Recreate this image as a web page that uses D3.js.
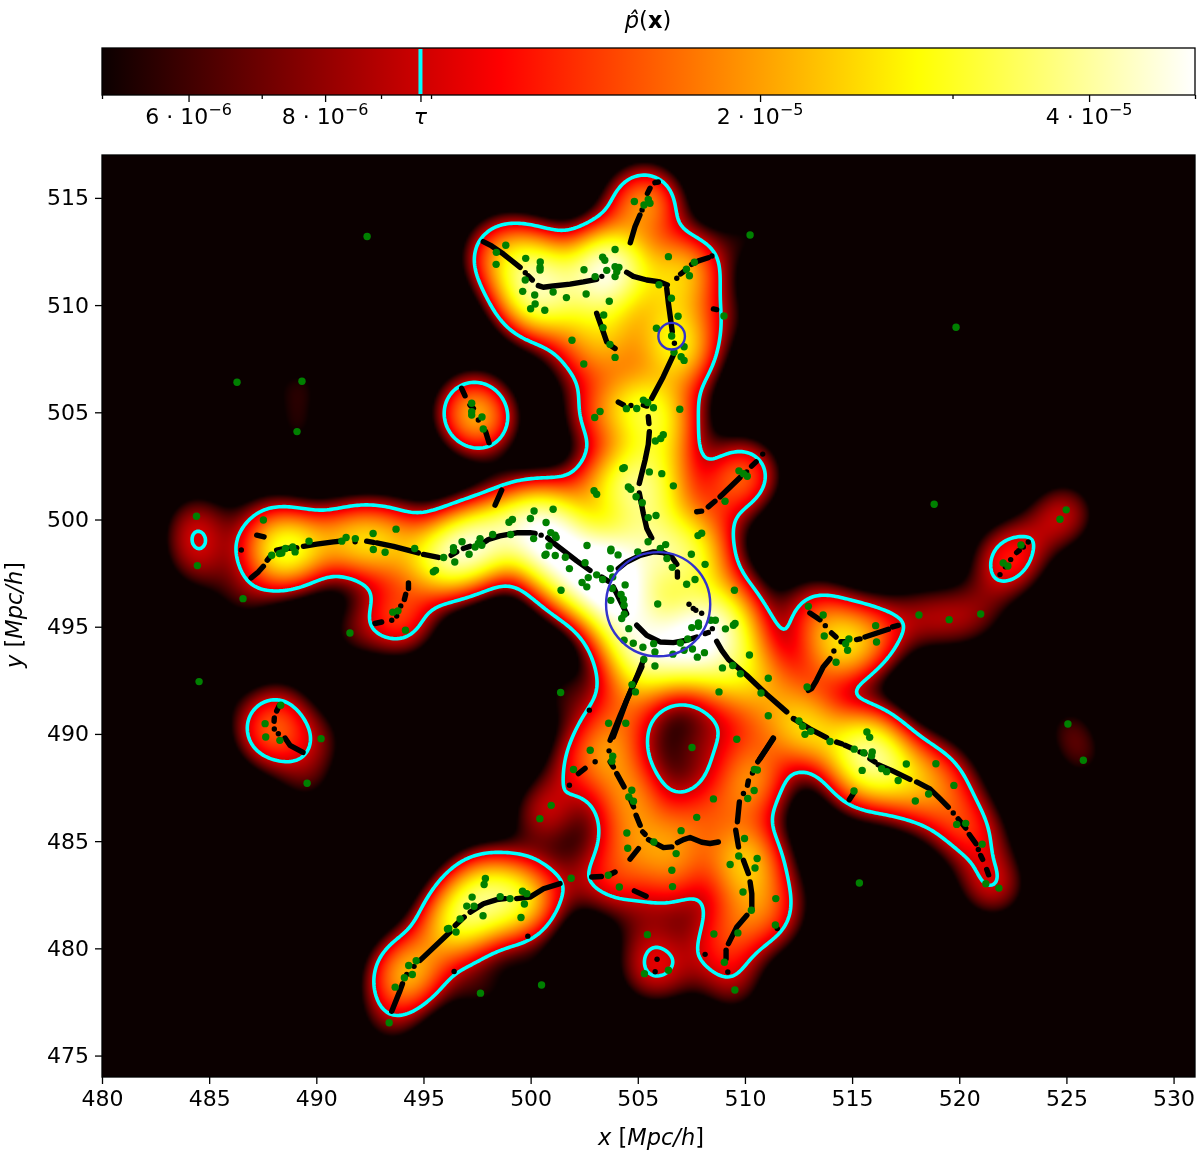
<!DOCTYPE html>
<html>
<head>
<meta charset="utf-8">
<script src="https://cdn.jsdelivr.net/npm/d3@7"></script>
<style>
  html, body { margin:0; padding:0; background:#fff; }
  svg { filter:blur(0.4px); }
  text { font-family:"DejaVu Sans", sans-serif; fill:#000; }
  .domain, .tick line { stroke:#000; stroke-width:1.3; }
</style>
</head>
<body>
<div id="chart"></div>
<script>
// galaxies [x, y] in Mpc/h
var galaxies = [
[504.84,514.83],[505.29,514.67],[505.49,514.93],[505.57,514.75],[510.24,513.27],[498.84,512.79],[498.40,512.46],[498.39,511.90],
[499.77,512.18],[500.45,512.01],[500.44,511.76],[500.44,511.64],[499.75,511.17],[499.63,510.64],[500.19,510.47],[500.21,510.05],
[500.00,509.83],[500.66,509.76],[501.05,510.61],[501.67,510.35],[502.59,510.52],[502.49,511.65],[503.01,511.33],[503.36,512.23],
[503.46,512.09],[503.94,512.59],[503.55,511.62],[503.94,511.79],[504.12,511.76],[504.02,511.56],[503.94,511.33],[506.43,512.26],
[507.64,512.00],[507.27,511.67],[507.41,511.37],[505.99,510.95],[506.57,510.32],[503.67,510.18],[503.41,509.54],[503.38,508.95],
[506.88,509.48],[509.02,509.49],[505.87,508.92],[506.58,508.56],[501.93,508.36],[503.70,508.17],[503.94,507.56],[507.16,508.06],
[506.69,507.80],[507.02,507.59],[507.16,507.42],[502.48,507.25],[505.26,505.57],[505.46,505.46],[505.73,505.21],[504.47,505.17],
[504.95,505.18],[506.96,505.14],[503.24,505.04],[502.99,504.76],[506.19,503.95],[506.07,503.78],[505.82,503.66],[497.25,505.42],
[497.25,505.03],[497.25,504.87],[497.73,504.78],[497.79,504.22],
[484.41,500.15],[484.45,497.85],[484.53,492.44],[486.58,496.31],[487.53,499.98],[487.92,498.33],[488.28,498.41],[488.39,498.44],
[488.56,498.65],[488.90,498.72],[489.01,498.49],[489.66,498.99],[491.19,498.99],[491.39,499.16],[491.82,499.11],[492.65,499.35],
[492.66,498.60],[493.21,498.47],[493.72,499.55],[494.59,498.65],[495.94,498.23],[496.46,498.02],[496.40,498.69],[496.40,498.54],
[496.80,498.96],[497.13,498.38],[497.41,498.72],[497.56,498.88],[497.64,499.11],[497.72,498.80],[498.23,499.30],[495.56,497.63],
[495.46,497.56],[494.16,494.84],[491.57,494.71],[493.57,495.68],[493.81,495.74],[487.61,490.48],[487.64,489.86],[490.22,489.78],
[488.34,491.34],[488.30,489.70],[489.57,487.70],[489.33,506.45],[489.10,504.10],[486.30,506.40],[492.37,513.20],[519.85,508.97],
[504.37,502.42],[504.30,502.38],[505.54,502.22],[506.12,502.14],[506.66,501.57],[504.56,501.52],[504.67,501.41],[502.96,501.34],
[503.08,501.18],[504.92,501.06],[505.21,500.78],[509.07,500.85],[509.72,502.27],[509.93,502.14],[510.11,502.02],[500.16,500.40],
[501.05,500.48],[499.15,500.00],[498.99,499.87],[499.99,500.05],[500.72,499.86],[505.49,500.09],[505.85,500.19],[507.81,499.25],
[507.98,499.36],[499.07,499.30],[500.14,499.11],[500.94,499.39],[501.14,499.27],[501.19,499.16],[500.86,498.77],[500.67,498.33],
[500.72,498.38],[501.15,498.32],[501.62,498.24],[501.81,497.71],[502.63,498.79],[503.75,498.61],[503.74,498.54],[504.08,498.35],
[505.00,498.49],[505.48,498.96],[506.30,498.83],[506.05,498.65],[507.50,498.38],[508.14,497.91],[506.36,498.18],[506.61,497.77],
[502.54,497.98],[503.72,497.71],[503.08,497.42],[502.69,497.29],[503.36,497.20],[503.83,497.32],[502.40,497.06],[502.62,496.86],
[501.42,496.70],[503.81,496.78],[504.41,496.95],[507.28,496.98],[507.67,497.20],[509.51,496.70],[504.22,496.50],[504.33,496.27],
[503.74,496.23],[504.36,496.00],[505.93,496.06],[504.37,495.58],[504.25,495.38],[507.52,494.96],[507.83,495.18],[507.83,495.02],
[508.40,495.30],[508.62,495.30],[509.54,495.15],[509.46,495.07],[509.09,494.90],[504.58,494.91],[504.36,494.37],[504.79,494.23],
[505.24,494.04],[505.74,494.21],[505.80,493.82],[506.99,494.24],[507.33,494.43],[507.16,493.90],[507.55,493.96],[508.11,493.79],
[507.78,493.58],[506.64,493.72],[505.28,493.47],[505.80,493.17],[510.21,493.68],[508.95,493.08],[509.43,493.19],[509.79,492.81],
[511.09,492.60],[504.73,492.30],[504.89,491.96],[508.79,491.96],[510.75,491.91],[512.90,492.19],[501.40,491.93],[511.09,490.85],
[503.64,490.50],[504.44,490.50],[512.52,490.61],[512.69,490.36],[512.80,489.98],[513.07,490.12],[512.96,495.95],[509.62,489.75],
[502.78,489.24],[507.53,489.37],[503.83,488.96],[503.79,488.73],[502.00,488.34],[510.44,488.34],[510.58,488.32],[500.96,486.67],
[500.43,486.05],[504.72,487.37],[510.43,487.36],[510.13,486.99],[504.58,487.06],[504.80,486.86],[508.53,486.97],[507.75,486.11],
[504.49,485.38],[507.02,485.49],[509.98,485.12],[505.75,484.96],[504.53,484.67],[506.79,484.42],[509.71,484.31],[510.57,484.19],
[509.31,483.91],[510.47,483.75],[506.59,483.64],[503.62,483.41],[501.89,483.27],[504.14,482.86],[506.62,482.88],[509.91,482.63],
[511.44,482.32],[510.30,481.78],[511.42,481.09],[509.67,480.72],[508.55,480.67],[505.45,480.64],[509.04,479.35],[505.31,478.82],
[506.43,478.98],[500.51,478.29],[509.53,478.06],[515.34,483.05],
[518.83,500.71],[524.99,500.45],[524.70,500.01],[522.88,498.81],[522.05,497.97],[522.27,497.83],[518.12,495.55],[519.53,495.33],
[521.00,495.59],[513.65,495.55],[516.10,495.05],[516.14,494.29],[513.70,494.57],[514.85,494.43],[514.70,494.21],[514.79,493.90],
[514.25,493.34],[513.97,489.65],[515.10,489.29],[515.69,490.09],[515.82,489.84],[515.54,489.12],[515.94,489.16],[515.91,488.98],
[515.47,488.30],[516.38,488.38],[516.61,488.24],[517.53,488.60],[518.91,488.61],[517.15,487.83],[517.95,486.87],[519.75,487.60],
[518.57,487.20],[515.09,487.34],[519.88,485.78],[520.30,485.83],[521.07,484.86],[521.85,482.81],[521.24,483.01],[525.07,490.46],
[525.79,488.77],
[493.40,476.53],[493.68,478.19],[494.11,478.63],[494.48,478.78],[494.31,479.20],[494.66,479.42],[496.52,480.76],[496.12,480.90],
[496.18,480.93],[496.71,481.37],[497.02,481.97],[497.36,481.96],[497.78,481.52],[497.27,482.39],[497.83,482.98],[497.89,483.26],
[498.58,482.41],[499.04,482.32],[499.62,482.66],[499.82,482.55],[499.71,482.07],[499.55,481.44],[497.66,477.91]
];

// ridge runs (black dots), each run read as a short polyline
var ridgeRuns = [
[[497.79,512.96],[498.18,512.76],[498.73,512.38],[499.51,511.76]],[[499.75,511.51]],[[499.89,511.36],[500.08,511.17]],
[[500.36,510.91],[500.59,510.83],[501.06,510.89],[501.84,510.98],[502.46,511.08],[503.08,511.20]],[[503.32,511.34]],
[[504.48,511.53],[504.79,511.34],[505.42,511.17],[506.04,511.08],[506.38,510.94]],
[[506.35,510.78],[506.43,510.08],[506.61,508.76]],[[506.71,508.22]],
[[506.66,507.67],[506.19,506.66],[505.65,505.65]],
[[504.65,512.91],[504.87,513.66],[505.10,514.20]],[[505.20,514.44]],[[505.45,515.21],[505.57,515.45]],[[505.80,515.71],[505.96,515.74]],
[[506.82,511.25]],[[507.00,511.45],[507.20,511.61]],[[507.51,511.90],[507.83,512.06],[508.29,512.21]],[[508.46,512.29]],
[[508.53,509.82],[508.68,509.79]],
[[503.08,509.62],[503.36,508.84],[503.55,508.29]],[[503.70,508.14],[503.94,507.98]],
[[504.09,505.48],[504.33,505.35]],[[504.68,505.32]],[[505.26,505.34],[505.42,505.29]],[[505.49,504.79],[505.52,504.48]],
[[505.54,504.10],[505.49,503.50],[505.34,502.77],[505.07,501.68]],
[[505.07,501.24],[505.26,500.28],[505.42,499.58],[505.65,499.14]],
[[496.78,506.12],[496.94,505.77]],[[497.17,505.34],[497.33,505.18]],[[497.56,504.64]],[[497.72,504.77]],[[497.90,504.10],[498.06,503.58]],
[[486.50,498.58]],[[487.22,499.27],[487.56,499.19]],
[[486.96,497.28],[487.30,497.56],[487.53,497.82]],[[487.71,498.10],[487.84,498.26]],
[[488.15,498.57],[488.54,498.65],[489.09,498.69]],[[489.40,498.75],[490.02,498.85],[490.80,498.96],[491.19,499.00]],[[491.81,498.96]],
[[492.35,498.99],[492.66,498.93]],[[492.82,498.91],[493.60,498.75],[494.76,498.44]],[[495.00,498.37],[495.70,498.23]],
[[496.29,498.33],[496.55,498.49]],[[496.86,498.65],[497.17,498.75]],
[[497.87,498.96],[498.03,499.07],[498.57,499.24],[499.35,499.38],[499.97,499.39],[500.21,499.35]],[[500.49,499.27]],
[[500.80,499.14],[501.14,498.85],[502.15,498.07],[502.77,497.63]],[[503.32,497.32],[503.63,497.12]],
[[503.86,496.86],[504.17,496.23],[504.48,495.61]],
[[504.95,495.07],[505.42,494.60],[506.04,494.29],[506.66,494.26],[507.28,494.37],[507.75,494.52]],
[[508.14,494.68],[508.29,494.73]],[[508.48,494.91]],
[[504.09,497.71],[504.48,498.02],[505.11,498.33],[505.73,498.49],[506.19,498.46],[506.58,498.26],[506.82,497.91]],
[[506.85,497.56],[506.85,497.32]],
[[507.39,496.05]],[[507.59,495.85]],[[507.71,495.77]],[[507.98,495.63]],
[[505.29,493.51],[504.95,492.66],[504.48,491.57],[503.86,489.86]],
[[508.68,494.32],[508.92,493.90],[509.23,493.47],[510.08,492.74],[511.01,491.85],[511.95,491.03]],[[512.29,490.71]],
[[512.26,490.71],[513.03,490.24],[513.81,489.83]],[[514.28,489.62],[514.51,489.54]],[[514.67,489.47],[514.93,489.36]],
[[515.37,489.16],[515.60,489.08]],[[515.83,488.84],[516.07,488.69]],[[516.22,488.56],[516.84,488.30],[517.70,487.88]],
[[518.01,487.76],[518.63,487.44],[519.10,486.98],[519.49,486.59]],[[519.72,486.31]],[[519.95,486.04],[520.30,485.61]],
[[520.47,485.31],[520.78,484.88]],[[520.89,484.61]],[[521.00,484.33],[521.09,484.15]],[[521.28,483.68],[521.37,483.43]],
[[513.03,495.64],[513.50,495.33]],[[513.75,495.05]],[[514.04,494.71],[514.25,494.52]],[[514.48,494.30],[514.67,494.30]],
[[515.21,494.40],[515.37,494.43]],[[515.60,494.52],[516.69,494.88]],[[516.89,494.99],[517.15,495.06]],
[[514.15,493.87]],[[513.97,493.51],[513.65,493.12],[513.34,492.50],[513.11,492.11],[512.96,492.03]],
[[511.32,489.81],[510.70,488.84]],[[514.87,486.93],[515.05,487.21]],
[[521.90,497.43]],[[522.15,497.80]],[[522.40,498.13]],[[522.68,498.46],[522.80,498.56]],[[522.99,498.72]],[[523.22,498.95]],
[[507.75,500.36],[507.98,500.39]],[[508.29,500.59],[508.60,500.85]],[[508.84,501.06],[509.77,501.96]],[[510.08,502.22]],
[[510.31,502.49],[510.52,502.69]],[[510.83,503.05]],
[[498.34,500.67],[498.65,501.37]],
[[494.30,497.04],[494.30,496.78]],[[494.17,496.51],[494.11,496.27]],[[493.94,495.97]],[[493.75,495.50]],[[493.52,495.30]],[[493.05,495.22],[492.74,495.15]],
[[488.28,491.34],[488.15,491.07]],[[488.04,490.75],[488.03,490.59]],[[488.04,490.23]],[[488.23,490.01]],[[488.54,489.81],[488.77,489.47],[489.38,489.14]],
[[505.19,493.13],[504.72,492.12],[504.18,490.87],[503.71,489.71]],[[503.66,489.21]],[[503.71,488.70],[503.86,488.46]],
[[504.02,488.15],[504.36,487.53]],[[504.64,486.99],[504.80,486.60]],[[504.92,486.21],[505.11,485.74]],[[505.23,485.43],[505.34,485.32]],
[[505.50,485.07],[505.89,484.86],[506.20,484.70],[506.59,484.73]],
[[506.85,484.93],[507.13,485.07],[507.44,485.17],[507.99,484.95],[508.37,484.89],[508.76,484.96]],
[[503.01,488.70]],[[502.54,488.39],[502.23,488.15]],[[501.81,487.61]],[[502.74,491.11]],
[[505.03,484.65],[504.64,484.16]],[[503.94,483.56],[503.63,483.41]],[[503.30,483.35],[502.85,483.33]],[[504.84,482.68],[505.39,482.43]],
[[511.33,489.79],[511.02,489.32],[510.60,488.70]],[[510.35,488.18]],[[510.16,487.81],[510.12,487.61]],[[509.93,487.22]],
[[509.74,486.83],[509.65,485.90]],[[509.57,485.51],[509.70,484.73]],[[509.93,484.11],[510.16,483.49]],
[[510.24,483.10],[510.32,482.55],[510.32,481.85]],[[510.09,481.54],[509.62,481.00],[509.23,480.22]],[[509.12,479.91],[509.12,479.52]],
[[509.20,478.90]],[[508.14,479.72]],[[505.90,479.49]],[[505.81,478.91]],[[511.51,480.92]],
[[493.52,477.07],[493.91,478.04],[494.02,478.35]],[[494.22,478.78]],[[494.56,479.16]],
[[494.84,479.44],[496.24,480.76]],[[496.48,481.07],[496.90,481.46]],
[[497.18,481.69],[497.80,482.08],[498.42,482.27],[498.81,482.32]],
[[499.35,482.32],[499.97,482.39],[500.60,482.78],[501.37,483.02]],[[499.87,480.57]],[[496.43,478.92]]
];

// blue circles [x, y, radius]
var circles = [[505.95,496.05,2.43],[506.58,508.55,0.62]];

var xTicks = d3.range(480, 531, 5);
var yTicks = d3.range(475, 516, 5);
var tau = 9.78e-6;
var cbarMajor = [6e-6, 8e-6, 2e-5, 4e-5];
var cbarMinor = [5e-6, 7e-6, 9e-6, 1e-5, 3e-5, 5e-5];

// KDE settings
var bandwidth = 1.2;
var kernelPeak = 4.35e-6;
// mass the visible points don't explain: [x, y, peak]
var densityTweaks = [[484.35,499.1,4.25e-6],[501.9,483.3,-1.0e-6],[505.85,478.7,0.7e-6]];

// matplotlib "hot"
var hotStops = [0, 0.365079, 0.746032, 1];
var hotColors = ["#0b0000", "#ff0000", "#ffff00", "#ffffff"];

var width = 1200, height = 1156;
var margin = {left:102, right:1195, top:155, bottom:1077};
var cbar = {top:48, bottom:95};

var svg = d3.select("#chart").append("svg")
    .attr("width", width).attr("height", height)
    .style("display", "block");

var x = d3.scaleLinear().domain([480, 531]).range([margin.left, margin.right]);
var y = d3.scaleLinear().domain([474, 517]).range([margin.bottom, margin.top]);
var c = d3.scaleLog().domain([5e-6, 5e-5]).range([margin.left, margin.right]);
var norm = d3.scaleLog().domain([5e-6, 5e-5]).range([0, 1]).clamp(true);
var hot = d3.scaleLinear().domain(hotStops).range(hotColors).interpolate(d3.interpolateRgb);

/* density grid */
var nx = 546, ny = 461;
var dx = 51 / nx, dy = 43 / ny;
var field = new Float64Array(nx * ny);
var reach = bandwidth * 4.5;
var twoH2 = 2 * bandwidth * bandwidth;
function addKernel(gx, gy, peak) {
    var i0 = Math.max(0, Math.floor((gx - reach - 480) / dx)), i1 = Math.min(nx - 1, Math.ceil((gx + reach - 480) / dx));
    var j0 = Math.max(0, Math.floor((517 - gy - reach) / dy)), j1 = Math.min(ny - 1, Math.ceil((517 - gy + reach) / dy));
    for (var j = j0; j <= j1; j++) {
        var py = 517 - (j + 0.5) * dy - gy;
        for (var i = i0; i <= i1; i++) {
            var px = 480 + (i + 0.5) * dx - gx;
            field[j * nx + i] += peak * Math.exp(-(px * px + py * py) / twoH2);
        }
    }
}
galaxies.forEach(function(g) { addKernel(g[0], g[1], kernelPeak); });
densityTweaks.forEach(function(g) { addKernel(g[0], g[1], g[2]); });

/* heat map */
var canvas = document.createElement("canvas");
canvas.width = nx; canvas.height = ny;
var ctx = canvas.getContext("2d");
var img = ctx.createImageData(nx, ny);
for (var k = 0; k < field.length; k++) {
    var col = d3.rgb(hot(norm(Math.max(field[k], 5e-6))));
    img.data[k * 4] = col.r; img.data[k * 4 + 1] = col.g; img.data[k * 4 + 2] = col.b; img.data[k * 4 + 3] = 255;
}
ctx.putImageData(img, 0, 0);

svg.append("image")
    .attr("x", margin.left).attr("y", margin.top)
    .attr("width", margin.right - margin.left).attr("height", margin.bottom - margin.top)
    .attr("preserveAspectRatio", "none")
    .attr("href", canvas.toDataURL());

/* tau contour */
var contour = d3.contours().size([nx, ny]).thresholds([tau])(Array.from(field))[0];
var gridPath = d3.geoPath(d3.geoTransform({
    point: function(a, b) { this.stream.point(x(480 + a * dx), y(517 - b * dy)); }
}));
svg.append("path")
    .attr("d", gridPath(contour))
    .attr("fill", "none").attr("stroke", "#00ffff").attr("stroke-width", 3.6);

/* ridge */
var line = d3.line().x(function(d) { return x(d[0]); }).y(function(d) { return y(d[1]); });
svg.append("g").selectAll("path").data(ridgeRuns).enter().append("path")
    .attr("d", function(d) { return d.length > 1 ? line(d) : line([d[0], d[0]]); })
    .attr("fill", "none").attr("stroke", "#000").attr("stroke-width", 5.4)
    .attr("stroke-linecap", "round").attr("stroke-linejoin", "round");

/* galaxies */
svg.append("g").selectAll("circle").data(galaxies).enter().append("circle")
    .attr("cx", function(d) { return x(d[0]); }).attr("cy", function(d) { return y(d[1]); })
    .attr("r", 3.7).attr("fill", "#008000");

svg.append("g").selectAll("circle").data(circles).enter().append("circle")
    .attr("cx", function(d) { return x(d[0]); }).attr("cy", function(d) { return y(d[1]); })
    .attr("r", function(d) { return x(d[2]) - x(0); })
    .attr("fill", "none").attr("stroke", "#3333cc").attr("stroke-width", 2.4);

/* axes */
svg.append("rect")
    .attr("x", margin.left).attr("y", margin.top)
    .attr("width", margin.right - margin.left).attr("height", margin.bottom - margin.top)
    .attr("fill", "none").attr("stroke", "#000").attr("stroke-width", 1.3);

var xAxis = svg.append("g").attr("transform", "translate(0," + margin.bottom + ")")
    .call(d3.axisBottom(x).tickValues(xTicks).tickSize(7).tickPadding(6).tickFormat(d3.format("d")));
var yAxis = svg.append("g").attr("transform", "translate(" + margin.left + ",0)")
    .call(d3.axisLeft(y).tickValues(yTicks).tickSize(7).tickPadding(6).tickFormat(d3.format("d")));
svg.selectAll("g .tick text").style("font-size", "22px").style("font-family", '"DejaVu Sans"');
xAxis.select(".domain").remove();
yAxis.select(".domain").remove();

function axisLabel(sel, symbol) {
    sel.attr("font-size", 22.5);
    sel.append("tspan").attr("font-style", "italic").text(symbol);
    sel.append("tspan").text(" [");
    sel.append("tspan").attr("font-style", "italic").text("Mpc/h");
    sel.append("tspan").text("]");
}
axisLabel(svg.append("text").attr("x", 651).attr("y", 1145).attr("text-anchor", "middle"), "x");
axisLabel(svg.append("text").attr("transform", "translate(22,615) rotate(-90)").attr("text-anchor", "middle"), "y");

/* colorbar */
var grad = svg.append("defs").append("linearGradient").attr("id", "hotGrad");
hotStops.forEach(function(s, i) {
    grad.append("stop").attr("offset", s).attr("stop-color", hotColors[i]);
});
svg.append("rect")
    .attr("x", margin.left).attr("y", cbar.top)
    .attr("width", margin.right - margin.left).attr("height", cbar.bottom - cbar.top)
    .attr("fill", "url(#hotGrad)").attr("stroke", "#000").attr("stroke-width", 1.3);
svg.append("line")
    .attr("x1", c(tau)).attr("x2", c(tau)).attr("y1", cbar.top + 1).attr("y2", cbar.bottom - 1)
    .attr("stroke", "#00ffff").attr("stroke-width", 4);

var cbarG = svg.append("g").attr("transform", "translate(0," + cbar.bottom + ")");
var minorAxis = cbarG.append("g").call(d3.axisBottom(c).tickValues(cbarMinor).tickSize(4).tickFormat(""));
minorAxis.select(".domain").remove();
var majorAxis = cbarG.append("g").call(d3.axisBottom(c).tickValues(cbarMajor.concat([tau])).tickSize(7).tickFormat(""));
majorAxis.select(".domain").remove();

cbarMajor.forEach(function(v) {
    var e = Math.floor(Math.log10(v) + 1e-9);
    var m = Math.round(v / Math.pow(10, e));
    var t = svg.append("text").attr("x", c(v)).attr("y", 124).attr("text-anchor", "middle").attr("font-size", 22);
    t.append("tspan").text(m + " \u00b7 10");
    t.append("tspan").attr("dy", -9).attr("font-size", 16).text("\u2212" + Math.abs(e));
});
svg.append("text").attr("x", c(tau)).attr("y", 124).attr("text-anchor", "middle")
    .attr("font-size", 22).attr("font-style", "italic").text("\u03c4");

var title = svg.append("text").attr("x", 648).attr("y", 28).attr("text-anchor", "middle").attr("font-size", 22.5);
title.append("tspan").attr("font-style", "italic").text("p\u0302");
title.append("tspan").text("(");
title.append("tspan").attr("font-weight", "bold").text("x");
title.append("tspan").text(")");
</script>
</body>
</html>
